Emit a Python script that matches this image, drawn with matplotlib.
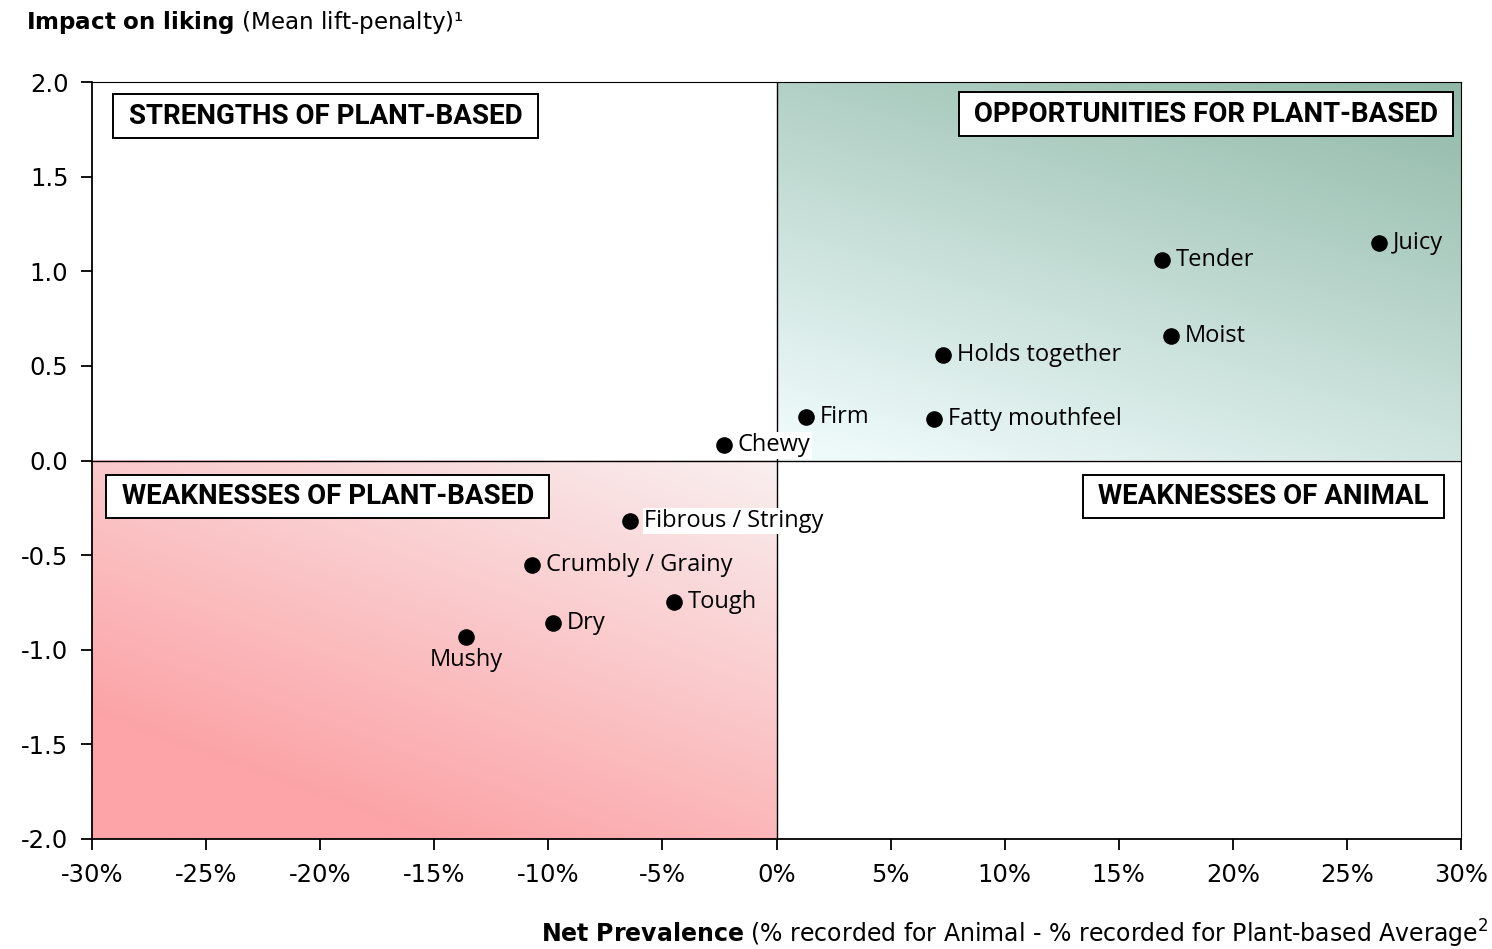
import numpy as np
import matplotlib.pyplot as plt
from matplotlib.colors import to_rgb

# data
labels = ["Juicy", "Tender", "Moist", "Holds together", "Firm", "Fatty mouthfeel",
          "Chewy", "Fibrous / Stringy", "Crumbly / Grainy", "Tough", "Dry", "Mushy"]
net_prev = [26.4, 16.9, 17.3, 7.3, 1.3, 6.9, -2.3, -6.4, -10.7, -4.5, -9.8, -13.6]
impact = [1.15, 1.06, 0.66, 0.56, 0.23, 0.22, 0.08, -0.32, -0.55, -0.75, -0.86, -0.93]
xticks = [-30, -25, -20, -15, -10, -5, 0, 5, 10, 15, 20, 25, 30]
yticks = [-2.0, -1.5, -1.0, -0.5, 0.0, 0.5, 1.0, 1.5, 2.0]

LABEL_FONT = ["Open Sans", "DejaVu Sans"]
TITLE_FONT = ["DejaVu Sans"]
QUAD_FONT = ["Liberation Sans Narrow", "Roboto", "DejaVu Sans"]


def gradient(c_far, c_near, wx, wy, lo, hi, n=300):
    # diagonal gradient, t=0 at lower left of the image grid
    xx, yy = np.meshgrid(np.linspace(0, 1, n), np.linspace(0, 1, n))
    t = wx * xx + wy * yy
    t = np.clip((t - lo) / (hi - lo), 0, 1)[..., None]
    a = np.array(to_rgb(c_near))
    b = np.array(to_rgb(c_far))
    return a * (1 - t) + b * t


fig = plt.figure(figsize=(14.92, 9.49), dpi=100)
ax = fig.add_axes([92 / 1492, 1 - 839 / 949, (1461 - 92) / 1492, (839 - 82) / 949])

# green quadrant: dark at top right, light at bottom left
g = gradient("#8fb8a7", "#eefafa", 0.35, 0.65, 0.05, 1.0)
ax.imshow(g, extent=[0, 30, 0, 2], origin="lower", aspect="auto", zorder=0)
# pink quadrant: saturated at bottom left, fading to top right
p = gradient("#f9eff0", "#fca4a7", 0.4, 0.6, 0.2, 1.0)
ax.imshow(p, extent=[-30, 0, -2, 0], origin="lower", aspect="auto", zorder=0)

ax.axhline(0, color="black", lw=1, zorder=1)
ax.axvline(0, color="black", lw=1, zorder=1)

ax.scatter(net_prev, impact, s=120, color="black", zorder=3)

for lab, x, y in zip(labels, net_prev, impact):
    if lab == "Mushy":
        ax.text(x, y - 0.06, lab, ha="center", va="top", fontsize=17,
                family=LABEL_FONT, zorder=4)
    elif lab in ("Chewy", "Fibrous / Stringy"):
        ax.text(x + 0.6, y, lab, ha="left", va="center", fontsize=17,
                family=LABEL_FONT, zorder=4,
                bbox=dict(facecolor="white", edgecolor="none", pad=1))
    else:
        ax.text(x + 0.6, y, lab, ha="left", va="center", fontsize=17,
                family=LABEL_FONT, zorder=4)

box = dict(boxstyle="square,pad=0.3", facecolor="white", edgecolor="black", lw=1.4)
qkw = dict(va="center", fontsize=20, fontweight="bold", family=QUAD_FONT, bbox=box, zorder=5)
ax.text(-28.7, 1.82, " STRENGTHS OF PLANT-BASED ", ha="left", **qkw)
ax.text(29.3, 1.83, " OPPORTUNITIES FOR PLANT-BASED ", ha="right", **qkw)
ax.text(-29.0, -0.19, " WEAKNESSES OF PLANT-BASED ", ha="left", fontstretch="condensed", **qkw)
ax.text(28.9, -0.19, " WEAKNESSES OF ANIMAL ", ha="right", **qkw)

ax.set_xlim(-30, 30)
ax.set_ylim(-2, 2)
ax.set_xticks(xticks)
ax.set_xticklabels([f"{v}%" for v in xticks])
ax.set_yticks(yticks)
ax.set_yticklabels([f"{v:.1f}" for v in yticks])
ax.tick_params(axis="both", direction="out", length=8, width=1.3, labelsize=17.5)
ax.tick_params(axis="x", pad=9)
ax.tick_params(axis="y", pad=9)
for lbl in ax.get_xticklabels() + ax.get_yticklabels():
    lbl.set_family(TITLE_FONT)
for s in ax.spines.values():
    s.set_linewidth(1.3)
for s in ["top", "right"]:
    ax.spines[s].set_linewidth(0.8)

fig.text(26 / 1492, 1 - 22 / 949, r"$\bf{Impact\ on\ liking}$ (Mean lift-penalty)¹",
         ha="left", va="center", fontsize=16.6, family=TITLE_FONT)

fig.text(1488 / 1492, 1 - 934 / 949,
         r"$\bf{Net\ Prevalence}$ (% recorded for Animal - % recorded for Plant-based Average$^{2}$",
         ha="right", va="center", fontsize=17, family=TITLE_FONT)

fig.savefig("out.png", dpi=100)
